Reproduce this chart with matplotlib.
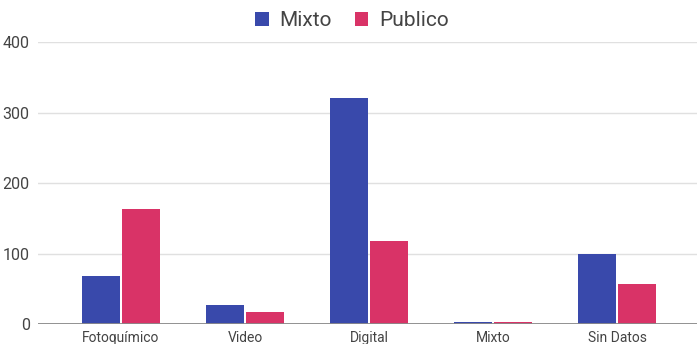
import numpy as np
import matplotlib.pyplot as plt

categories = ["Fotoquímico", "Video", "Digital", "Mixto", "Sin Datos"]
mixto = [68, 28, 320, 3, 99]
publico = [164, 17, 118, 3, 57]
series_names = ["Mixto", "Publico"]
colors = ["#3949AB", "#D93367"]

plt.rcParams["font.family"] = ["Roboto", "DejaVu Sans"]

fig = plt.figure(figsize=(6.97, 3.44), dpi=100)
ax = fig.add_axes([38 / 697, 19.7 / 344, 659 / 697, 282.3 / 344])

x = np.arange(len(categories))
w = 0.306
off = w / 2 + 0.008
ax.bar(x - off, mixto, w, color=colors[0], label=series_names[0], zorder=3)
ax.bar(x + off, publico, w, color=colors[1], label=series_names[1], zorder=3)

ax.set_xlim(-0.669, 4.645)
ax.set_ylim(0, 400)
ax.set_yticks([0, 100, 200, 300, 400])
ax.set_xticks(x)
ax.set_xticklabels(categories)
ax.grid(axis="y", color="#e0e0e0", linewidth=1, zorder=0)
ax.axhline(0, color="#8a8a8a", linewidth=1.3, zorder=4)
for s in ax.spines.values():
    s.set_visible(False)
ax.tick_params(axis="both", length=0, colors="#444444")
ax.tick_params(axis="y", pad=6, labelsize=11.5)
ax.tick_params(axis="x", pad=5, labelsize=10)

fig.legend(loc="center", bbox_to_anchor=(0.505, 0.94), ncol=2, frameon=False,
           fontsize=15, handlelength=0.65, handleheight=0.65, handletextpad=0.5,
           columnspacing=1.1, labelcolor="#444444")

fig.savefig("out.png", dpi=100)
